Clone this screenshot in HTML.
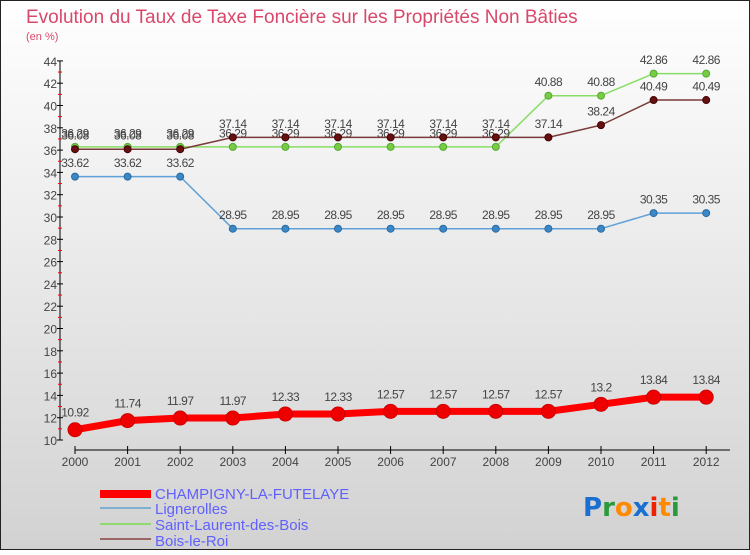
<!DOCTYPE html>
<html><head><meta charset="utf-8"><style>
body{margin:0;width:750px;height:550px;overflow:hidden;font-family:"Liberation Sans",sans-serif}
</style></head><body>
<svg id="c" width="750" height="550" xmlns="http://www.w3.org/2000/svg">
<defs><linearGradient id="bg" x1="0" y1="0" x2="0" y2="1"><stop offset="0" stop-color="#ffffff"/><stop offset="1" stop-color="#d2d2d2"/></linearGradient></defs>
<rect x="0.5" y="0.5" width="749" height="549" fill="url(#bg)" stroke="#222"/>
<text x="26" y="23" font-size="19" fill="#d9486a">Evolution du Taux de Taxe Foncière sur les Propriétés Non Bâties</text>
<text x="26" y="40" font-size="11" fill="#d9486a">(en %)</text>
<g id="axes"></g><g id="plot"></g>
<g>
<rect x="100" y="490" width="51" height="8" fill="#ff0000"/>
<text x="155" y="499" font-size="15" fill="#6060ff">CHAMPIGNY-LA-FUTELAYE</text>
<rect x="100" y="507" width="51" height="2" fill="#7fb0d0"/>
<text x="155" y="514" font-size="15" fill="#6060ff">Lignerolles</text>
<rect x="100" y="523" width="51" height="2" fill="#90d870"/>
<text x="155" y="530" font-size="15" fill="#6060ff">Saint-Laurent-des-Bois</text>
<rect x="100" y="538" width="51" height="2" fill="#9a6666"/>
<text x="155" y="546" font-size="15" fill="#6060ff">Bois-le-Roi</text>
</g>
<text x="583" y="516" font-size="26" font-family="DejaVu Sans" font-weight="bold"><tspan fill="#1a6fd0">P</tspan><tspan fill="#2a9a3a">r</tspan><tspan fill="#ff8a00">o</tspan><tspan fill="#1a6fd0">x</tspan><tspan fill="#ee2200">i</tspan><tspan fill="#ff8a00">t</tspan><tspan fill="#2a9a3a">i</tspan></text>
</svg>
<script>
const years=["2000","2001","2002","2003","2004","2005","2006","2007","2008","2009","2010","2011","2012"];
const champigny=[10.92,11.74,11.97,11.97,12.33,12.33,12.57,12.57,12.57,12.57,13.2,13.84,13.84];
const lignerolles=[33.62,33.62,33.62,28.95,28.95,28.95,28.95,28.95,28.95,28.95,28.95,30.35,30.35];
const saintLaurent=[36.29,36.29,36.29,36.29,36.29,36.29,36.29,36.29,36.29,40.88,40.88,42.86,42.86];
const boisLeRoi=[36.08,36.08,36.08,37.14,37.14,37.14,37.14,37.14,37.14,37.14,38.24,40.49,40.49];
const yTicks=[10,12,14,16,18,20,22,24,26,28,30,32,34,36,38,40,42,44];
const NS="http://www.w3.org/2000/svg";
const X=i=>75+i*52.6, Y=v=>440-(v-10)*11.15;
function mk(t,a,p){const e=document.createElementNS(NS,t);for(const k in a)e.setAttribute(k,a[k]);p.appendChild(e);return e;}
const ax=document.getElementById('axes'),pl=document.getElementById('plot');
let e=mk('line',{x1:60,y1:Y(44),x2:60,y2:Y(10),stroke:'#000'},ax);

e=mk('line',{x1:75,y1:450,x2:730,y2:450,stroke:'#000'},ax);

yTicks.forEach(v=>{
 mk('line',{x1:57,y1:Y(v),x2:63,y2:Y(v),stroke:'#000'},ax);
 if(v<44)mk('line',{x1:58,y1:Y(v+1),x2:62,y2:Y(v+1),stroke:'#f00'},ax);
 const t=mk('text',{x:57,y:Y(v)+5,'font-size':12,fill:'#444','text-anchor':'end'},ax);t.textContent=v;
 
});
years.forEach((y,i)=>{
 mk('line',{x1:X(i),y1:446,x2:X(i),y2:454,stroke:'#000'},ax);
 const t=mk('text',{x:X(i),y:466,'font-size':12,fill:'#444','text-anchor':'middle'},ax);t.textContent=y;
 
});
function series(d,name,col,w,r,dot,dotStroke){
 const g=mk('g',{},pl);
 
 const l=mk('polyline',{points:d.map((v,i)=>X(i)+','+Y(v)).join(' '),fill:'none',stroke:col,'stroke-width':w,'stroke-linejoin':'round'},g);
 
 d.forEach((v,i)=>{
  const c=mk('circle',{cx:X(i),cy:Y(v),r:r,fill:dot,stroke:dotStroke,'stroke-width':1},g);
  
  const t=mk('text',{x:X(i),y:Y(v)-(r+6),'font-size':12,fill:'#444','text-anchor':'middle','letter-spacing':'-0.5'},g);t.textContent=v;
  
 });
}
series(lignerolles,'lignerolles','#5fa0d8',1.5,3.5,'#3a88c8','#2a6aa0');
series(saintLaurent,'saint-laurent','#88dd66',1.5,3.5,'#77cc44','#55aa33');
series(boisLeRoi,'bois-le-roi','#7a3a3a',1.5,3.5,'#661111','#440000');
series(champigny,'champigny','#ff0000',7,7,'#ee0000','#cc0000');
</script>
</body></html>
